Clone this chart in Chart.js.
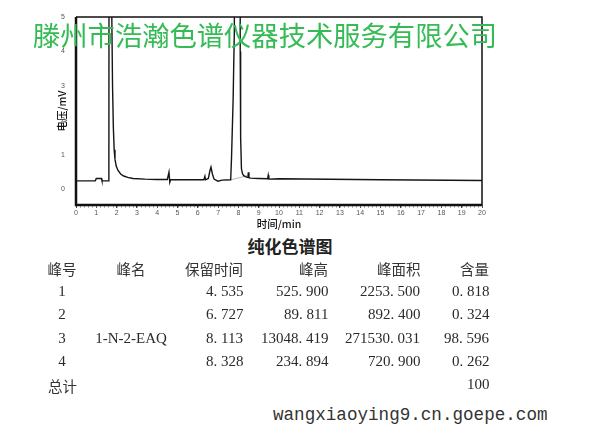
<!DOCTYPE html>
<html>
<head>
<meta charset="utf-8">
<script src="https://cdn.jsdelivr.net/npm/chart.js@4/dist/chart.umd.min.js"></script>
<style>
  body { margin: 0; background: #fff; }
  #page { position: relative; width: 600px; height: 434px; overflow: hidden; background: #fff; }
  #chartBox { position: absolute; left: 0; top: 0; width: 600px; height: 230px; }
  #stamp { position: absolute; left: 33px; top: 21px; font: 27.3px "Noto Sans CJK SC", sans-serif; line-height: 1; color: #35bb55; white-space: nowrap; }
  #caption { position: absolute; left: 0; width: 580px; top: 233px; text-align: center; font: bold 17px "Noto Sans CJK SC", sans-serif; color: #222; }
  .cell { position: absolute; white-space: nowrap; line-height: 1; color: #2a2a2a; will-change: transform; }
  .cjk { font: 14.5px "Noto Sans CJK SC", sans-serif; color: #333; }
  .num { font: 15px "Liberation Serif", serif; }
  #site { position: absolute; left: 273px; top: 405px; font: 17.6px "Liberation Mono", monospace; color: #333; }
</style>
</head>
<body>
<div id="page">
  <div id="chartBox"><canvas id="chroma" width="600" height="230"></canvas></div>
  <div id="stamp">滕州市浩瀚色谱仪器技术服务有限公司</div>
  <div id="caption">纯化色谱图</div>
  <div id="table"></div>
  <div id="site">wangxiaoying9.cn.goepe.com</div>
</div>
<script>
// trace (min, mV); the two big peaks run off the top of the frame
const times = [0.05, 0.95, 1.0, 1.25, 1.28, 1.62, 1.66, 1.72, 1.755, 1.8, 1.84, 1.88, 1.92, 1.98, 2.07, 2.2, 2.35, 2.55, 2.81, 3.4, 3.96,
  4.5, 4.58, 4.62, 4.66, 5.5, 6.3, 6.35, 6.38, 6.52, 6.6, 6.65, 6.72, 6.8, 6.99, 7.2, 7.62, 7.66, 7.74, 7.8, 7.84,
  8.04, 8.09, 8.11, 8.15, 8.2, 8.26, 8.4, 8.47, 8.49, 8.52, 8.6, 9.0, 9.44, 9.47, 9.5, 10.0, 15.0, 20.0];
const volts = [0.25, 0.25, 0.32, 0.32, 0.25, 0.25, 40, 40, 5.5, 3.0, 1.8, 1.15, 0.88, 0.68, 0.55, 0.45, 0.39, 0.35, 0.32, 0.3, 0.29,
  0.29, 0.5, 0.21, 0.29, 0.28, 0.28, 0.38, 0.28, 0.32, 0.55, 0.65, 0.45, 0.3, 0.24, 0.27, 0.28, 0.9, 2.6, 4.6, 40,
  40, 4.0, 1.5, 0.6, 0.46, 0.4, 0.36, 0.35, 0.5, 0.34, 0.33, 0.32, 0.31, 0.41, 0.3, 0.31, 0.28, 0.26];
// faint integration baseline drawn under the main peak
const baseTimes = [7.62, 8.45];
const baseVolts = [0.28, 0.4];
const yTicks = [0, 1, 2, 3, 4, 5];

// peak table
const headers = ['峰号', '峰名', '保留时间', '峰高', '峰面积', '含量'];
const peakNo = ['1', '2', '3', '4', '总计'];
const peakName = ['', '', '1-N-2-EAQ', '', ''];
const retTime = ['4. 535', '6. 727', '8. 113', '8. 328', ''];
const peakHeight = ['525. 900', '89. 811', '13048. 419', '234. 894', ''];
const peakArea = ['2253. 500', '892. 400', '271530. 031', '720. 900', ''];
const content = ['0. 818', '0. 324', '98. 596', '0. 262', '100'];

const tableBox = document.getElementById('table');
const rowY = [258, 283, 306, 330, 353, 376];
// anchor x and alignment of each column
const cols = [
  { x: 62, align: 'center' }, { x: 131, align: 'center' }, { x: 243, align: 'right' },
  { x: 328, align: 'right' }, { x: 420, align: 'right' }, { x: 489, align: 'right' }
];

function addCell(text, col, y, cls) {
  if (!text) return;
  const el = document.createElement('div');
  el.className = 'cell ' + cls;
  el.textContent = text;
  el.style.top = y + 'px';
  if (col.align === 'right') {
    el.style.right = (600 - col.x) + 'px';
  } else if (col.align === 'left') {
    el.style.left = col.x + 'px';
  } else {
    el.style.left = (col.x - 100) + 'px';
    el.style.width = '200px';
    el.style.textAlign = 'center';
  }
  tableBox.appendChild(el);
}

headers.forEach((h, i) => addCell(h, cols[i], rowY[0], 'cjk'));
const columns = [peakNo, peakName, retTime, peakHeight, peakArea, content];
peakNo.forEach((_, r) => {
  columns.forEach((vals, c) => {
    const isCjk = /[\u4e00-\u9fff]/.test(vals[r]);
    const col = (isCjk && c === 0) ? { x: 48, align: 'left' } : cols[c];
    addCell(vals[r], col, rowY[r + 1] - (isCjk ? 1 : 0), isCjk ? 'cjk' : 'num');
  });
});

// frame round the plot plus the small minor ticks on the time axis
const framePlugin = {
  id: 'frame',
  afterDraw(chart) {
    const { ctx, chartArea: a, scales } = chart;
    ctx.save();
    ctx.strokeStyle = '#111';
    ctx.lineWidth = 1.5;
    ctx.beginPath();
    ctx.moveTo(a.left, a.top); ctx.lineTo(a.right, a.top); ctx.lineTo(a.right, a.bottom);
    ctx.stroke();
    ctx.lineWidth = 2.5;
    ctx.beginPath();
    ctx.moveTo(a.left, a.top); ctx.lineTo(a.left, a.bottom); ctx.lineTo(a.right, a.bottom);
    ctx.stroke();
    ctx.lineWidth = 0.8;
    ctx.strokeStyle = '#666';
    for (let t = 0.2; t < 20; t += 0.2) {
      const px = Math.round(scales.x.getPixelForValue(t)) + 0.5;
      ctx.beginPath();
      ctx.moveTo(px, a.bottom + 1);
      ctx.lineTo(px, a.bottom + 2.5);
      ctx.stroke();
    }
    ctx.restore();
  }
};

const ctx = document.getElementById('chroma').getContext('2d');
new Chart(ctx, {
  type: 'line',
  data: {
    datasets: [{
      data: times.map((t, i) => ({ x: t, y: volts[i] })),
      borderColor: '#151515',
      borderWidth: 1.4,
      pointRadius: 0,
      tension: 0
    }, {
      data: baseTimes.map((t, i) => ({ x: t, y: baseVolts[i] })),
      borderColor: '#aaa',
      borderWidth: 0.8,
      pointRadius: 0
    }]
  },
  options: {
    responsive: false,
    animation: false,
    layout: { padding: { top: 17, right: 118, left: 0, bottom: 0 } },
    plugins: { legend: { display: false }, tooltip: { enabled: false } },
    scales: {
      x: {
        type: 'linear',
        min: 0,
        max: 20,
        afterFit: (scale) => { scale.height = 25; },
        ticks: { stepSize: 1, color: '#555', font: { size: 7 }, padding: 1, maxRotation: 0 },
        grid: { display: true, drawOnChartArea: false, tickLength: 3, color: '#444' },
        border: { display: false },
        title: { display: true, text: '时间/min', color: '#111', font: { size: 10.5, family: 'Noto Sans CJK SC', weight: '500' }, padding: { bottom: 0 } }
      },
      y: {
        min: -0.45,
        max: 5,
        afterFit: (scale) => { scale.width = 76; },
        afterBuildTicks: (scale) => { scale.ticks = yTicks.map(v => ({ value: v })); },
        ticks: { color: '#555', font: { size: 7 }, padding: 3 },
        grid: { display: false },
        border: { display: false },
        title: { display: true, text: '电压/mV', color: '#111', font: { size: 10.5, family: 'Noto Sans CJK SC', weight: '500' }, padding: { top: 56 } }
      }
    }
  },
  plugins: [framePlugin]
});
</script>
</body>
</html>
